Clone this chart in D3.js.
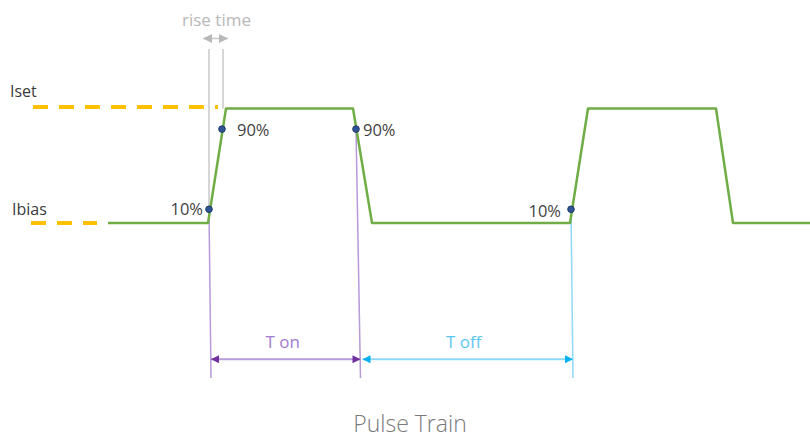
<!DOCTYPE html>
<html>
<head>
<meta charset="utf-8">
<script src="https://cdn.jsdelivr.net/npm/d3@7"></script>
<style>
  html, body { margin: 0; padding: 0; background: #fff; }
  svg { display: block; font-family: "Open Sans", "Noto Sans", sans-serif; }
</style>
</head>
<body>
<svg id="chart" width="810" height="439"></svg>
<script>
// ---- data (time units, current level: 0 = Ibias, 1 = Iset) ----
const timeDomain = [0, 81];
const waveT      = [10.8, 20.8, 22.6, 35.3, 37.2, 57.0, 58.8, 71.6, 73.3, 81.0];
const waveLevel  = [0, 0, 1, 1, 0, 0, 1, 1, 0, 0];

const markerT      = [20.9, 22.2, 35.6, 57.1];
const markerLevel  = [0.12, 0.82, 0.82, 0.12];
const markerLabels = ["10%", "90%", "90%", "10%"];

const refNames  = ["Iset", "Ibias"];
const refLevels = [1, 0];
const refStart  = [3.3, 3.1];
const refEnd    = [21.8, 9.7];

const riseStartT = 20.9, riseEndT = 22.3;
const spanNames = ["T on", "T off"];
const spanStart = [21.1, 36.25];
const spanEnd   = [36.05, 57.3];

const title = "Pulse Train";

// ---- scales ----
const svg = d3.select("#chart");
const x = d3.scaleLinear().domain(timeDomain).range([0, 810]);
const y = d3.scaleLinear().domain([0, 1]).range([223, 108.5]);

const guideBottom = -1.354, arrowLevel = -1.19;

// arrow markers
const defs = svg.append("defs");
function mk(id, color, w, h) {
  const m = defs.append("marker").attr("id", id)
    .attr("viewBox", "0 0 10 10").attr("refX", 10).attr("refY", 5)
    .attr("markerWidth", w).attr("markerHeight", h)
    .attr("markerUnits", "userSpaceOnUse").attr("orient", "auto-start-reverse");
  m.append("path").attr("d", "M0,0 L10,5 L0,10 Z").attr("fill", color);
}
mk("arPurple", "#7030a0", 9, 8);
mk("arCyan", "#00b0f0", 9, 8);
mk("arGray", "#b8b8b8", 9, 9);

// ---- reference dashed levels ----
const refColor = "#ffc000";
refNames.forEach((name, i) => {
  svg.append("line")
    .attr("x1", x(refStart[i])).attr("x2", x(refEnd[i]))
    .attr("y1", y(refLevels[i]) - (i === 0 ? 1.5 : 0)).attr("y2", y(refLevels[i]) - (i === 0 ? 1.5 : 0))
    .attr("stroke", refColor).attr("stroke-width", 4)
    .attr("stroke-dasharray", "15 11");
  svg.append("text")
    .attr("x", i === 0 ? 10 : 12).attr("y", y(refLevels[i]) - (i === 0 ? 12 : 8))
    .attr("font-size", 16).attr("fill", "#3a3a3a").attr("font-weight", 500)
    .text(name);
});

// ---- rise time guides ----
const gray = "#c8c8c8";
svg.append("line").attr("x1", x(riseStartT)).attr("x2", x(riseStartT))
  .attr("y1", 49).attr("y2", y(markerLevel[0]) - 3)
  .attr("stroke", gray).attr("stroke-width", 1.5);
svg.append("line").attr("x1", x(riseEndT)).attr("x2", x(riseEndT))
  .attr("y1", 49).attr("y2", y(1))
  .attr("stroke", gray).attr("stroke-width", 1.5);
svg.append("line")
  .attr("x1", x(riseStartT) - 6).attr("x2", x(riseEndT) + 5)
  .attr("y1", 38.5).attr("y2", 38.5)
  .attr("stroke", gray).attr("stroke-width", 1.5)
  .attr("marker-start", "url(#arGray)").attr("marker-end", "url(#arGray)");
svg.append("text").attr("x", 216.5).attr("y", 26)
  .attr("text-anchor", "middle").attr("font-size", 17).attr("fill", "#b8b8b8")
  .text("rise time");

// ---- span guides and arrows ----
const spanLine  = ["#b79ad8", "#8fd9f7"];
const spanArrow = ["arPurple", "arCyan"];
const spanText  = ["#9f7ccf", "#5cc6f2"];
const guides = [
  { m: 0, t: spanStart[0], c: spanLine[0] },
  { m: 2, t: spanEnd[0],   c: spanLine[0] },
  { m: 3, t: spanEnd[1],   c: spanLine[1] }
];
guides.forEach(g => {
  svg.append("line")
    .attr("x1", x(markerT[g.m])).attr("y1", y(markerLevel[g.m]))
    .attr("x2", x(g.t)).attr("y2", y(guideBottom))
    .attr("stroke", g.c).attr("stroke-width", 1.5);
});
spanNames.forEach((name, i) => {
  svg.append("line")
    .attr("x1", x(spanStart[i])).attr("x2", x(spanEnd[i]))
    .attr("y1", y(arrowLevel)).attr("y2", y(arrowLevel))
    .attr("stroke", spanLine[i]).attr("stroke-width", 2)
    .attr("marker-start", `url(#${spanArrow[i]})`).attr("marker-end", `url(#${spanArrow[i]})`);
  svg.append("text")
    .attr("x", (x(spanStart[i]) + x(spanEnd[i])) / 2 - (i === 0 ? 3 : 4))
    .attr("y", y(arrowLevel) - 11)
    .attr("text-anchor", "middle").attr("font-size", 17).attr("fill", spanText[i])
    .text(name);
});

// ---- waveform ----
const wave = waveT.map((t, i) => [t, waveLevel[i]]);
svg.append("path").datum(wave)
  .attr("d", d3.line().x(d => x(d[0])).y(d => y(d[1])))
  .attr("fill", "none").attr("stroke", "#70ad47").attr("stroke-width", 2.5)
  .attr("stroke-linejoin", "round");

// ---- markers ----
const labelDx = [-6, 15, 7, -10];
const labelAnchor = ["end", "start", "start", "end"];
const labelDy = [6, 7, 7, 8];
markerT.forEach((t, i) => {
  svg.append("circle").attr("cx", x(t)).attr("cy", y(markerLevel[i])).attr("r", 3.3)
    .attr("fill", "#2f5597").attr("stroke", "#1f3864").attr("stroke-width", 1);
  svg.append("text").attr("x", x(t) + labelDx[i]).attr("y", y(markerLevel[i]) + labelDy[i])
    .attr("text-anchor", labelAnchor[i]).attr("font-size", 16.5).attr("fill", "#3f3f3f")
    .text(markerLabels[i]);
});

// ---- title ----
svg.append("text").attr("x", 410).attr("y", 432)
  .attr("text-anchor", "middle").attr("font-size", 23).attr("font-weight", 300)
  .attr("fill", "#7a7a7a").text(title);
</script>
</body>
</html>
